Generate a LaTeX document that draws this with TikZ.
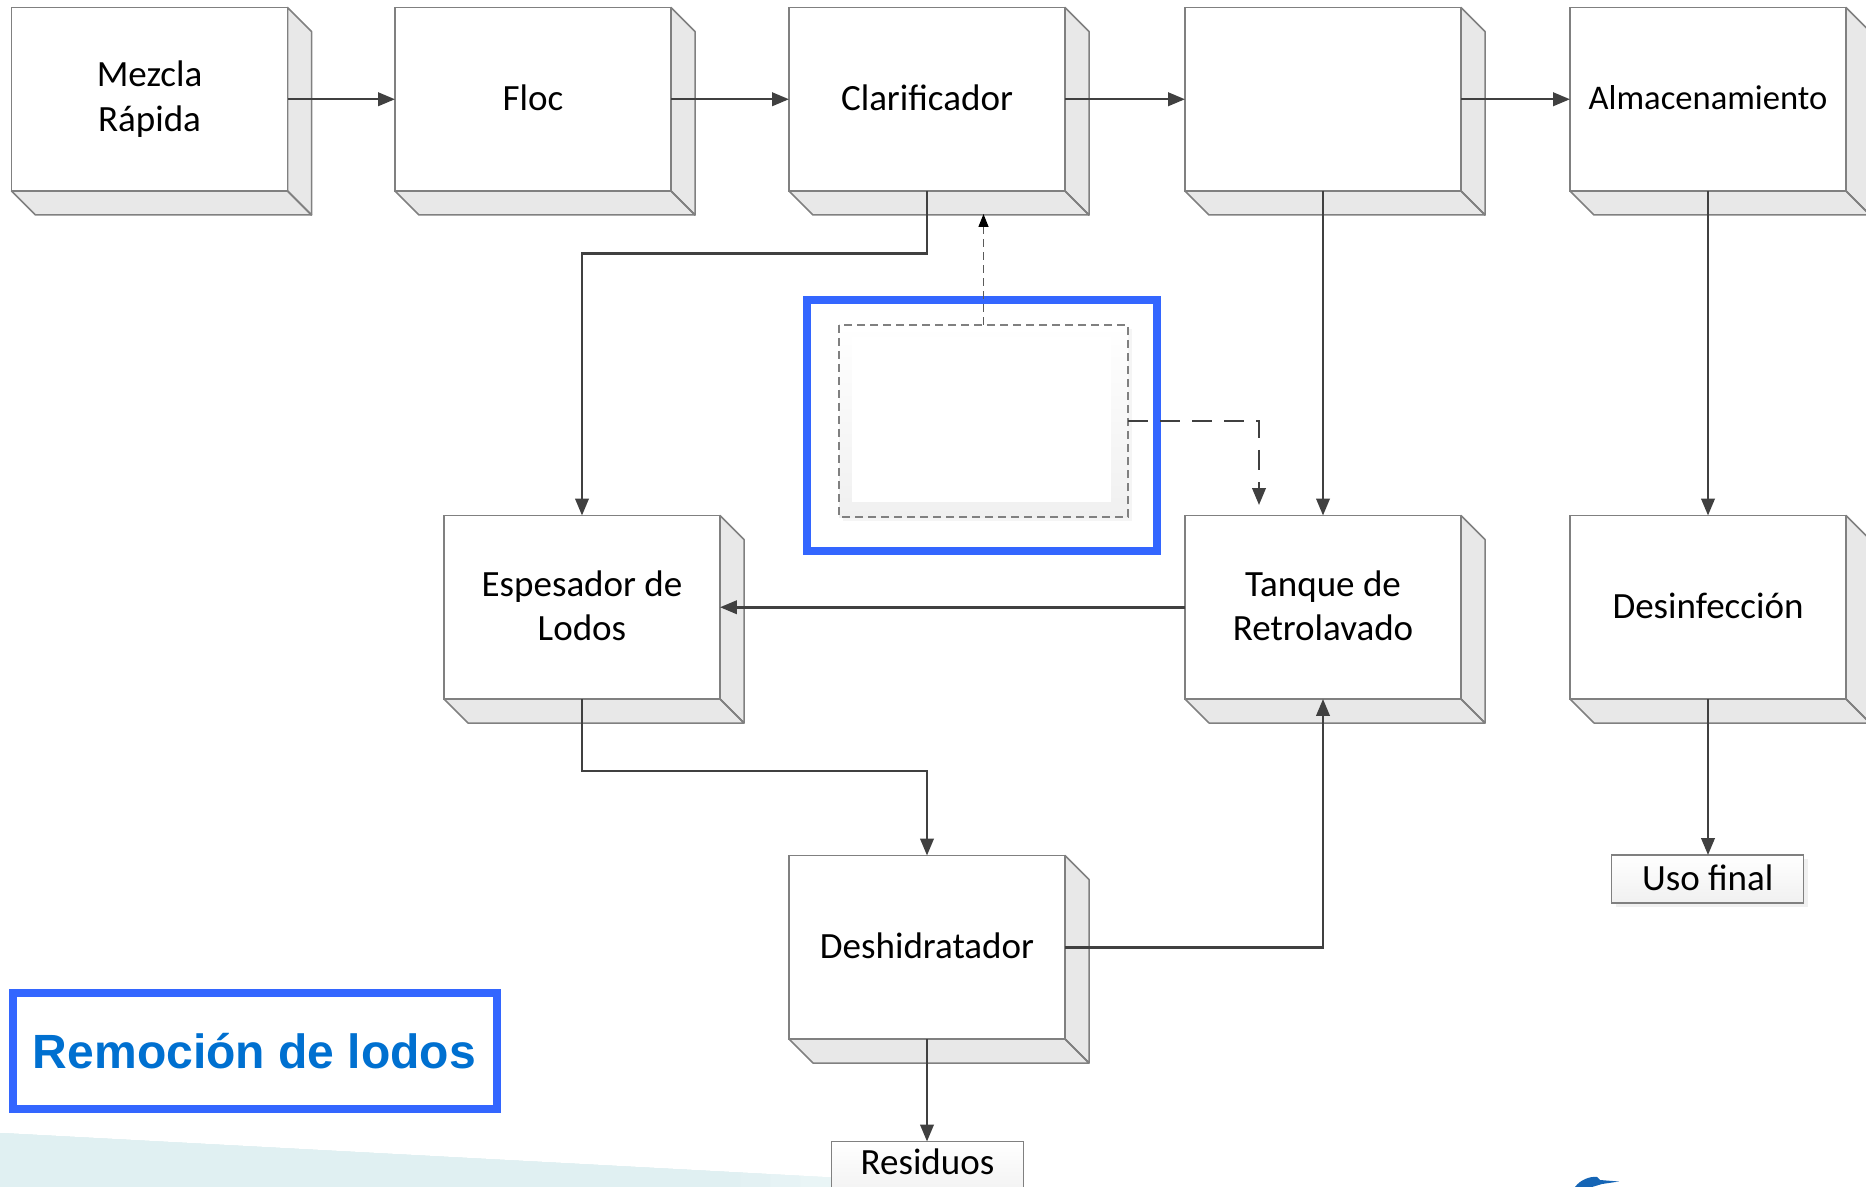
\documentclass[tikz,border=0pt]{standalone}
\usepackage{fontspec}
\setmainfont{Carlito}
\newfontfamily\titlefont{Liberation Sans}
\usetikzlibrary{arrows.meta,calc}
\definecolor{edgegrey}{HTML}{808080}
\definecolor{faceshade}{HTML}{E8E8E8}
\definecolor{linedark}{HTML}{404040}
\definecolor{frameblue}{HTML}{3366FF}
\definecolor{titleblue}{HTML}{0070D0}
\definecolor{wedgeteal}{HTML}{E0F0F2}
\definecolor{softgrey}{HTML}{F0F0F0}
\definecolor{logoblue}{HTML}{1565B5}
\newlength{\pu}
\setlength{\pu}{0.03cm}
\newcommand{\liftline}{\rule[-3pt]{0pt}{3pt}}
\tikzset{
  x=0.03cm, y=-0.03cm,
  front/.style={draw=edgegrey, fill=white, line width=1.5\pu, minimum width=276\pu, minimum height=183.5\pu,
    inner sep=0pt, outer sep=0pt, align=center, font=\fontsize{31.6}{38}\selectfont, anchor=north west},
  sideface/.style={draw=edgegrey, fill=faceshade, line width=1.5\pu, line join=round},
  endbox/.style={draw=edgegrey, top color=white, bottom color=softgrey, line width=1.5\pu, minimum width=192\pu,
    inner sep=0pt, outer sep=0pt, font=\fontsize{31.6}{36}\selectfont, anchor=north west},
  flow/.style={draw=linedark, line width=2.5\pu, -{Triangle[length=14.5pt,width=11.5pt]}},
  dashflow/.style={flow, dash pattern=on 20\pu off 12\pu},
  thindash/.style={draw=edgegrey, line width=1.2\pu, dash pattern=on 8\pu off 5\pu},
  frame/.style={draw=frameblue, line width=8\pu, fill=white, inner sep=0pt, outer sep=0pt},
}
% box: name, left x, top y, text
\newcommand{\blockbox}[4]{%
  \path[sideface] (#2+276,#3) -- ++(24,24) -- ++(0,183.5) -- ++(-24,-24) -- cycle;
  \path[sideface] (#2,#3+183.5) -- ++(276,0) -- ++(24,24) -- ++(-276,0) -- cycle;
  \draw[edgegrey, line width=1.5\pu] (#2+276,#3+183.5) -- ++(24,24);
  \node[front] (#1) at (#2,#3) {#4};
}
\begin{document}
\begin{tikzpicture}
\useasboundingbox (0,0) rectangle (1866,1187);
\clip (0,0) rectangle (1866,1187);
% background wedge (overlapping steps fading to the right) and logo
\foreach \xe/\tint in {1010/10,980/20,950/30,920/40,890/50,860/60,830/70,800/80,770/90,740/100}{
  \pgfmathsetmacro{\ye}{1133+0.0535*\xe}
  \fill[wedgeteal!\tint!white] (0,1133) -- (\xe,\ye) -- (\xe,1187) -- (0,1187) -- cycle;
}
\fill[logoblue] (1575,1187) .. controls (1580,1180) and (1590,1176) .. (1597,1177)
  -- (1600,1180) -- (1619,1181.5) -- (1602,1184) -- (1592,1187) -- cycle;
% blocks
\blockbox{mezcla}{11.5}{7.5}{Mezcla\\Rápida}
\blockbox{floc}{395}{7.5}{Floc\liftline}
\blockbox{clar}{789}{7.5}{Clarificador\liftline}
\blockbox{blank}{1185}{7.5}{}
\blockbox{alm}{1570}{7.5}{\fontsize{29.5}{38}\selectfont Almacenamiento\liftline}
\blockbox{esp}{444}{515.5}{Espesador de\\Lodos\liftline}
\blockbox{tanque}{1185}{515.5}{Tanque de\\Retrolavado\liftline}
\blockbox{desinf}{1570}{515.5}{Desinfección\liftline}
\blockbox{deshid}{789}{855.5}{Deshidratador\liftline}
% end boxes
\fill[softgrey] (1615.5,859) rectangle (1807.5,907);
\node[endbox, minimum height=48\pu] (uso) at (1611.7,855) {Uso final\liftline};
\node[endbox, minimum height=60\pu, text depth=20\pu, text height=26\pu] (resid) at (831.5,1141.5) {Residuos};
% framed blank panel
\node[frame, minimum width=350\pu, minimum height=251\pu, anchor=north west] (panel) at (807,300) {};
\fill[softgrey!70!white] (843,329) rectangle (1132,521);
\node[draw=none, top color=white, bottom color=softgrey, minimum width=289\pu, minimum height=192\pu,
  inner sep=0pt, outer sep=0pt, anchor=north west] (dashbox) at (839,325) {};
\node[fill=white, minimum width=259\pu, minimum height=165\pu, inner sep=0pt, outer sep=0pt] (innerwhite) at (981.5,419.5) {};
\path[thindash] (dashbox.north west) rectangle (dashbox.south east);
% title
\node[frame, minimum width=484\pu, minimum height=116\pu, anchor=north west,
  font=\titlefont\bfseries\fontsize{41}{48}\selectfont, text=titleblue] (title) at (12.5,993) {Remoción de lodos};
% connectors
\coordinate (jogA) at (700,253.5);
\coordinate (jogB) at (700,771);
\draw[flow] (mezcla.east) -- (floc.west);
\draw[flow] (floc.east) -- (clar.west);
\draw[flow] (clar.east) -- (blank.west);
\draw[flow] (blank.east) -- (alm.west);
\draw[flow] (clar.south) -- (clar.south |- jogA) -- (esp.north |- jogA) -- (esp.north);
\draw[flow] (blank.south) -- (tanque.north);
\draw[flow] (alm.south) -- (desinf.north);
\draw[flow] (desinf.south) -- (uso.north -| desinf.south);
\draw[flow] (tanque.west) -- (esp.east);
\draw[flow] (esp.south) -- (esp.south |- jogB) -- (deshid.north |- jogB) -- (deshid.north);
\draw[flow] (deshid.east) -- (deshid.east -| tanque.south) -- (tanque.south);
\draw[flow] (deshid.south) -- (resid.north -| deshid.south);
\coordinate (clarbase) at (dashbox.north |- 0,214);
\draw[draw=edgegrey!70!black, line width=1.2\pu, dash pattern=on 8\pu off 5\pu,
  -{Triangle[length=11pt,width=8.5pt,color=black]}] (dashbox.north) -- (clarbase);
\coordinate (tanqueentry) at (1259,505);
\draw[dashflow] (dashbox.east) -- (dashbox.east -| tanqueentry) -- (tanqueentry);
\end{tikzpicture}
\end{document}
